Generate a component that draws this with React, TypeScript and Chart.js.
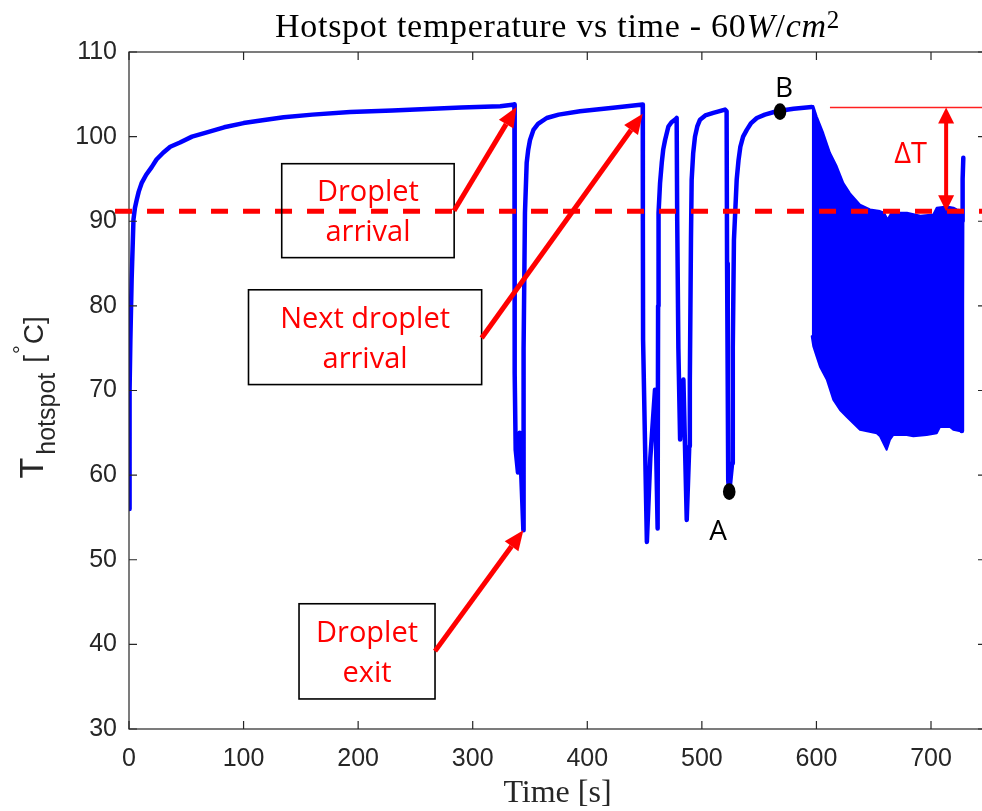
import React, { useEffect, useRef } from 'react';
import { Chart, registerables } from 'chart.js';

Chart.register(...registerables);

// ---------- data ----------
const timeS = [
  0, 0.3, 0.7, 1.2, 2.3, 3.9, 5.2, 6.7, 8.5, 11, 15, 19.8, 24, 29.8, 36, 44.5, 55, 68, 83, 100, 115, 135, 160, 193, 230, 265, 290, 324,
  336.4, 336.5, 336.6, 336.8, 337.5, 339.5, 341, 344.2, 344.4, 345.6, 347.1, 348.5, 350, 353, 357, 364.6, 375, 393.6, 422.6,
  448.4, 448.5, 448.7, 452, 455, 459.1, 461.4, 461.8, 462.2, 463.5, 465, 466.3, 467.9, 470.8, 473.5, 476.6, 478,
  478.5, 479.5, 481, 483.9, 486.8, 489, 489.5, 490.5, 491.1, 492.4, 494, 496, 498.4, 503, 510, 520.2,
  521.6, 522, 522.6, 523, 523.9, 526.4, 527, 528, 530.4, 532, 533.6, 536, 539.2, 543, 548, 555, 565.3, 580, 595.9,
];
const tempC = [
  56.0, 62, 70, 76, 83.1, 90.2, 91.6, 92.5, 93.5, 94.5, 95.5, 96.4, 97.3, 98.1, 98.8, 99.3, 100.0, 100.5, 101.1, 101.6, 101.9, 102.3, 102.6, 102.9, 103.1, 103.3, 103.45, 103.6,
  103.8, 95, 85, 72, 63, 60.3, 65, 53.5, 75, 91, 96.9, 98.5, 99.6, 100.8, 101.5, 102.2, 102.6, 103.0, 103.4,
  103.8, 90, 76, 52.1, 62, 70.1, 53.7, 80, 91, 94.5, 96.9, 98.5, 99.6, 101.2, 101.7, 102.0, 102.2,
  90, 75, 64.2, 71.3, 54.7, 63.4, 71, 88, 94.9, 98, 100.0, 101.2, 102.0, 102.5, 102.8, 103.2,
  103.0, 85, 70, 59.4, 58.0, 61.4, 75, 87.8, 94.9, 97.2, 98.8, 100.0, 100.8, 101.6, 102.2, 102.6, 103.0, 103.3, 103.5,
];

// oscillating region (upper / lower envelopes)
const oscTimeUpper = [
  595.9, 597.3, 600.2, 606, 611.8, 617.7, 623.5, 629.3, 638, 646.8, 655.5, 659, 662, 665,
  667.5, 679, 690.7, 702, 705, 713.9, 719.6, 722.5, 726.8,
];
const oscUpper = [
  103.5, 103.6, 102.4, 100.4, 98.1, 96.5, 94.5, 93.3, 91.95, 91.4, 91.2, 91.0, 90.2, 90.9,
  91.0, 91.0, 90.65, 90.8, 91.6, 91.75, 91.6, 91.4, 91.3,
];
const oscTimeLower = [
  595.9, 597.3, 600.2, 603.1, 606.0, 609.0, 614.7, 620.6, 626.4, 638.0, 652.6, 655.5, 661.3,
  664.2, 667.1, 678.8, 684.6, 696.2, 705.0, 707.9, 716.6, 719.5, 726.8,
];
const oscLower = [
  76.4, 75.2, 74.0, 72.8, 72.05, 71.3, 68.9, 67.7, 66.9, 65.35, 64.95, 64.6, 63.0,
  64.2, 64.75, 64.75, 64.6, 64.75, 64.95, 65.7, 65.7, 65.35, 65.15,
];

// final rise
const tailTime = [726.8, 727.0, 727.2, 727.6, 728.2];
const tailTemp = [65.2, 80, 90, 95, 97.5];

// axes
const xMin = 0;
const xMax = 748;
const yMin = 30;
const yMax = 110;
const xStep = 100;
const yStep = 10;

// reference levels
const arrivalLevel = 91.17;
const peakLevel = 103.45;
const dashStartT = -12.2;
const peakLineStartT = 611.8;

// annotation boxes
const boxLines = [['Droplet', 'arrival'], ['Next droplet', 'arrival'], ['Droplet', 'exit']];
const boxT0 = [133.3, 104.3, 148.4];
const boxT1 = [283.8, 307.8, 267.1];
const boxVTop = [96.8, 81.9, 44.8];
const boxVBot = [85.7, 70.7, 33.55];

// arrows
const arrowFromT = [283.7, 307.8, 267.1];
const arrowFromV = [91.25, 76.2, 39.2];
const arrowToT = [338.2, 448.4, 344.2];
const arrowToV = [103.5, 102.7, 53.5];

// markers A and B
const markerNames = ['A', 'B'];
const markerT = [523.9, 568.2];
const markerV = [58.05, 102.95];
const markerLabelT = [514.1, 571.7];
const markerLabelV = [52.35, 104.72];

// delta T
const deltaT_T = 713.2;
const deltaLabelT = 682.2;
const deltaLabelV = 96.88;

const SANS = '"Liberation Sans", Arial, sans-serif';
const SERIF = '"Liberation Serif", "Times New Roman", serif';
const ANN = '"Open Sans", "Noto Sans", sans-serif';
const AXIS_COLOR = '#262626';

function drawArrowHead(ctx: CanvasRenderingContext2D, x1: number, y1: number, x2: number, y2: number, hl: number, hw: number) {
  const a = Math.atan2(y2 - y1, x2 - x1);
  const bx = x2 - hl * Math.cos(a);
  const by = y2 - hl * Math.sin(a);
  ctx.beginPath();
  ctx.moveTo(x2, y2);
  ctx.lineTo(bx + hw * Math.sin(a), by - hw * Math.cos(a));
  ctx.lineTo(bx - hw * Math.sin(a), by + hw * Math.cos(a));
  ctx.closePath();
  ctx.fill();
  return [bx, by];
}

const decorPlugin = {
  id: 'decor',
  afterDatasetsDraw(chart: any) {
    const { ctx, chartArea: ca, scales } = chart;
    const xs = scales.x;
    const ys = scales.y;
    const px = (t: number) => xs.getPixelForValue(t);
    const py = (v: number) => ys.getPixelForValue(v);
    ctx.save();

    // frame and inward ticks
    ctx.strokeStyle = AXIS_COLOR;
    ctx.lineWidth = 1.2;
    ctx.strokeRect(ca.left, ca.top, ca.right - ca.left, ca.bottom - ca.top);
    const tl = 8;
    ctx.beginPath();
    for (let t = xMin; t <= 700; t += xStep) {
      const x = px(t);
      ctx.moveTo(x, ca.bottom); ctx.lineTo(x, ca.bottom - tl);
      ctx.moveTo(x, ca.top); ctx.lineTo(x, ca.top + tl);
    }
    for (let v = yMin; v <= yMax; v += yStep) {
      const y = py(v);
      ctx.moveTo(ca.left, y); ctx.lineTo(ca.left + tl, y);
      ctx.moveTo(ca.right, y); ctx.lineTo(ca.right - tl, y);
    }
    ctx.stroke();

    // dashed arrival level
    ctx.strokeStyle = '#ff0000';
    ctx.lineWidth = 5;
    ctx.setLineDash([17, 15]);
    ctx.beginPath();
    ctx.moveTo(px(dashStartT), py(arrivalLevel));
    ctx.lineTo(ca.right, py(arrivalLevel));
    ctx.stroke();
    ctx.setLineDash([]);

    // thin peak line
    ctx.strokeStyle = '#ff2020';
    ctx.lineWidth = 1.5;
    ctx.beginPath();
    const yp = py(peakLevel);
    ctx.moveTo(px(peakLineStartT), yp);
    ctx.lineTo(ca.right, yp);
    ctx.stroke();

    // boxes
    ctx.strokeStyle = '#000';
    ctx.lineWidth = 1.6;
    ctx.textAlign = 'center';
    ctx.textBaseline = 'alphabetic';
    ctx.font = `29px ${ANN}`;
    for (let i = 0; i < boxLines.length; i++) {
      const x0 = px(boxT0[i]);
      const x1 = px(boxT1[i]);
      const y0 = py(boxVTop[i]);
      const y1 = py(boxVBot[i]);
      ctx.strokeRect(x0, y0, x1 - x0, y1 - y0);
      const cx = (x0 + x1) / 2;
      const cy = (y0 + y1) / 2;
      ctx.fillStyle = '#ff0000';
      ctx.fillText(boxLines[i][0], cx, cy - 9.5);
      ctx.fillText(boxLines[i][1], cx, cy + 30.5);
    }

    // arrows
    ctx.strokeStyle = '#ff0000';
    ctx.fillStyle = '#ff0000';
    ctx.lineCap = 'butt';
    for (let i = 0; i < arrowFromT.length; i++) {
      const x1 = px(arrowFromT[i]);
      const y1 = py(arrowFromV[i]);
      const x2 = px(arrowToT[i]);
      const y2 = py(arrowToV[i]);
      const [bx, by] = drawArrowHead(ctx, x1, y1, x2, y2, 20, 8.5);
      ctx.lineWidth = 5;
      ctx.beginPath();
      ctx.moveTo(x1, y1);
      ctx.lineTo(bx, by);
      ctx.stroke();
    }

    // delta T double arrow
    {
      const x = px(deltaT_T);
      const yTop = py(peakLevel);
      const yBot = py(arrivalLevel);
      drawArrowHead(ctx, x, yBot, x, yTop, 16, 8);
      drawArrowHead(ctx, x, yTop, x, yBot, 16, 8);
      ctx.lineWidth = 4;
      ctx.beginPath();
      ctx.moveTo(x, yTop + 14);
      ctx.lineTo(x, yBot - 14);
      ctx.stroke();
      ctx.font = `29px ${ANN}`;
      ctx.textAlign = 'center';
      ctx.fillText('ΔT', px(deltaLabelT), py(deltaLabelV));
    }

    // markers
    ctx.fillStyle = '#000';
    for (let i = 0; i < markerNames.length; i++) {
      ctx.beginPath();
      ctx.ellipse(px(markerT[i]), py(markerV[i]), 6.3, 8.3, 0, 0, Math.PI * 2);
      ctx.fill();
      ctx.font = `28px ${ANN}`;
      ctx.textAlign = 'center';
      ctx.fillText(markerNames[i], px(markerLabelT[i]), py(markerLabelV[i]));
    }

    // title
    {
      const runs = [
        { text: 'Hotspot temperature vs time - 60', font: `34px ${SERIF}`, dy: 0 },
        { text: 'W', font: `italic 34px ${SERIF}`, dy: 0 },
        { text: '/', font: `34px ${SERIF}`, dy: 0 },
        { text: 'cm', font: `italic 34px ${SERIF}`, dy: 0 },
        { text: '2', font: `25px ${SERIF}`, dy: -9 },
      ];
      const targetW = 565;
      let total = 0;
      let chars = 0;
      (ctx as any).letterSpacing = '0px';
      for (const r of runs) {
        ctx.font = r.font;
        total += ctx.measureText(r.text).width;
        chars += r.text.length;
      }
      const ls = Math.max(0, (targetW - total) / chars);
      (ctx as any).letterSpacing = `${ls}px`;
      let w = 0;
      for (const r of runs) { ctx.font = r.font; w += ctx.measureText(r.text).width; }
      let x = (ca.left + ca.right) / 2 - w / 2;
      ctx.fillStyle = '#000';
      ctx.textAlign = 'left';
      for (const r of runs) {
        ctx.font = r.font;
        ctx.fillText(r.text, x, 37 + r.dy);
        x += ctx.measureText(r.text).width;
      }
      (ctx as any).letterSpacing = '0px';
    }

    // x-axis title
    ctx.fillStyle = AXIS_COLOR;
    ctx.font = `32px ${SERIF}`;
    ctx.textAlign = 'center';
    ctx.fillText('Time [s]', (ca.left + ca.right) / 2, 802);

    // y-axis title
    ctx.save();
    ctx.translate(43, (ca.top + ca.bottom) / 2 + 88);
    ctx.rotate(-Math.PI / 2);
    ctx.textAlign = 'left';
    let cx = 0;
    ctx.font = `34px ${SANS}`;
    ctx.fillText('T', cx, 0);
    cx += ctx.measureText('T').width + 3;
    ctx.font = `25px ${SANS}`;
    ctx.fillText('hotspot', cx, 12);
    cx += ctx.measureText('hotspot').width + 10;
    ctx.font = `28px ${SANS}`;
    ctx.fillText('[', cx, 0);
    cx += ctx.measureText('[').width + 1;
    ctx.font = `22px ${SANS}`;
    ctx.fillText('°', cx, -14);
    cx += ctx.measureText('°').width + 1;
    ctx.font = `28px ${SANS}`;
    ctx.fillText('C]', cx, 0);
    ctx.restore();

    ctx.restore();
  },
};

export default function App() {
  const ref = useRef<HTMLCanvasElement | null>(null);
  useEffect(() => {
    if (!ref.current) return;
    const line = { borderColor: '#0000ff', pointRadius: 0, tension: 0, borderJoinStyle: 'round' as const, borderCapStyle: 'round' as const };
    const chart = new Chart(ref.current, {
      type: 'line',
      data: {
        datasets: [
          { ...line, data: timeS.map((t, i) => ({ x: t, y: tempC[i] })), borderWidth: 4.5, fill: false },
          { ...line, data: oscTimeUpper.map((t, i) => ({ x: t, y: oscUpper[i] })), borderWidth: 2, fill: false },
          { ...line, data: oscTimeLower.map((t, i) => ({ x: t, y: oscLower[i] })), borderWidth: 2, fill: '-1', backgroundColor: '#0000ff' },
          { ...line, data: tailTime.map((t, i) => ({ x: t, y: tailTemp[i] })), borderWidth: 4.5, fill: false },
        ],
      },
      options: {
        animation: false,
        responsive: false,
        events: [],
        layout: { padding: { top: 52, left: 0, right: 0, bottom: 0 } },
        plugins: { legend: { display: false }, tooltip: { enabled: false }, title: { display: false } },
        scales: {
          x: {
            type: 'linear', min: xMin, max: xMax,
            grid: { display: false, drawTicks: false },
            border: { display: false },
            ticks: { stepSize: xStep, includeBounds: false, color: AXIS_COLOR, font: { family: SANS, size: 25 }, padding: 15, maxRotation: 0, autoSkip: false },
            afterFit: (s: any) => { s.height = 82; },
          },
          y: {
            type: 'linear', min: yMin, max: yMax,
            grid: { display: false, drawTicks: false },
            border: { display: false },
            ticks: { stepSize: yStep, color: AXIS_COLOR, font: { family: SANS, size: 25 }, padding: 12 },
            afterFit: (s: any) => { s.width = 129; },
          },
        },
      },
      plugins: [decorPlugin],
    } as any);
    return () => chart.destroy();
  }, []);
  return (
    <div style={{ position: 'absolute', left: 0, top: 0, width: 982, height: 811, overflow: 'hidden', background: '#fff' }}>
      <canvas ref={ref} width={986} height={811} style={{ width: 986, height: 811, display: 'block' }} />
    </div>
  );
}
